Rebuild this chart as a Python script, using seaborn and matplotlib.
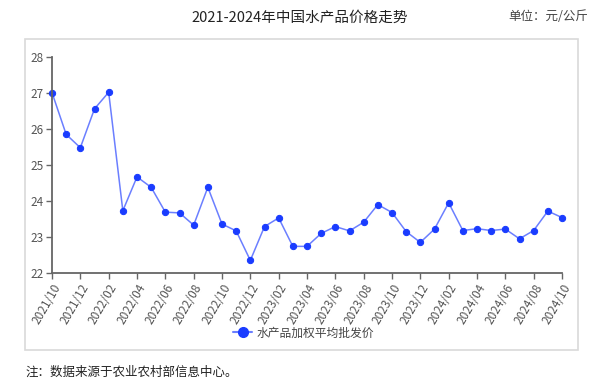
import matplotlib
matplotlib.use('Agg')
import matplotlib.pyplot as plt
import seaborn as sns
import pandas as pd
from matplotlib.patches import Rectangle
from matplotlib.lines import Line2D

sns.set_style('white')
plt.rcParams['font.family'] = ['Noto Sans CJK SC', 'DejaVu Sans']

# monthly data 2021/10 - 2024/10
months = pd.date_range('2021-10-01', '2024-10-01', freq='MS').strftime('%Y/%m').tolist()
prices = [27.01, 25.85, 25.48, 26.56, 27.02, 23.73, 24.67, 24.38, 23.69, 23.67,
          23.33, 24.38, 23.36, 23.17, 22.35, 23.29, 23.53, 22.74, 22.74, 23.10,
          23.29, 23.17, 23.41, 23.90, 23.68, 23.15, 22.85, 23.22, 23.95, 23.18,
          23.23, 23.18, 23.22, 22.95, 23.18, 23.72, 23.54]
series_name = '水产品加权平均批发价'

df = pd.DataFrame({'idx': range(len(months)), 'price': prices})

fig = plt.figure(figsize=(6.04, 3.86), dpi=100)

# outer frame
fig.patches.append(Rectangle((25/604, 1-350/386), (578-25)/604, (350-39)/386,
                             transform=fig.transFigure, fill=False,
                             edgecolor='#d9d9d9', linewidth=1.2))

ax = fig.add_axes([52/604, 1-273/386, 510/604, 216/386])
sns.lineplot(data=df, x='idx', y='price', ax=ax, color='#6b7fff', linewidth=1.1,
             marker='o', markersize=4.5, markerfacecolor='#1a3cff',
             markeredgecolor='#1a3cff', legend=False, clip_on=False)

ax.set_xlim(0, len(months)-1)
ax.set_ylim(22, 28)
ax.set_yticks(range(22, 29))
ax.set_xticks(range(0, len(months), 2))
ax.set_xticklabels(months[::2], rotation=60, ha='right', rotation_mode='anchor')
ax.set_xlabel('')
ax.set_ylabel('')
for s in ['top', 'right']:
    ax.spines[s].set_visible(False)
for s in ['left', 'bottom']:
    ax.spines[s].set_color('#666666')
    ax.spines[s].set_linewidth(1.3)
ax.tick_params(axis='both', direction='out', length=4, width=1, color='#666666',
               labelsize=8.5, labelcolor='#555555', pad=2, bottom=True, left=True)

fig.text(300/604, 1-18/386, '2021-2024年中国水产品价格走势', ha='center', va='center',
         fontsize=10.5, color='#222222')
fig.text(588/604, 1-17/386, '单位：元/公斤', ha='right', va='center',
         fontsize=9, color='#444444')

handle = Line2D([0], [0], color='#6b7fff', linewidth=1.5, marker='o', markersize=7,
                markerfacecolor='#1a3cff', markeredgecolor='#1a3cff')
fig.legend([handle], [series_name], loc='center', bbox_to_anchor=(304/604, 1-333/386),
           frameon=False, fontsize=8.5, handlelength=1.6, handletextpad=0.4,
           labelcolor='#444444')

fig.text(25/604, 1-372/386, '注：数据来源于农业农村部信息中心。', ha='left', va='center',
         fontsize=9, color='#222222')

fig.savefig('out.png', dpi=100)
